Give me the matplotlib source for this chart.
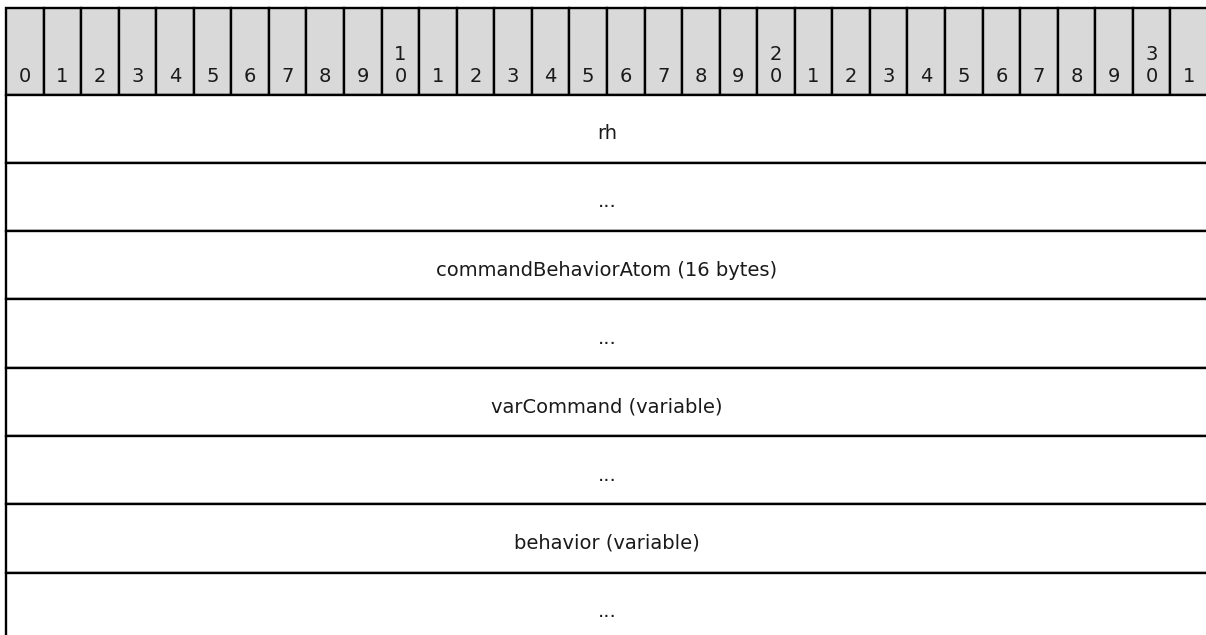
import matplotlib
matplotlib.use("Agg")
import matplotlib.pyplot as plt
from matplotlib.patches import Rectangle

# packet layout: 32 bit columns, one label per 32-bit row
n_bits = 32
row_labels = ["rh", "...", "commandBehaviorAtom (16 bytes)", "...",
              "varCommand (variable)", "...", "behavior (variable)", "..."]

# bit ruler labels (tens written above the units digit)
bit_labels = [str(b // 10) + "\n0" if b % 10 == 0 and b > 0 else str(b % 10)
              for b in range(n_bits)]

W, H = 1206, 635
x0, cell_w = 6, 37.56
head_top, head_bot = 8, 94.5
row_h = 68.3

fig = plt.figure(figsize=(W / 100, H / 100), dpi=100)
ax = fig.add_axes([0, 0, 1, 1])
ax.set_xlim(0, W)
ax.set_ylim(H, 0)
ax.axis("off")

lw = 1.7
font = 14

# header
for b, lab in enumerate(bit_labels):
    x = x0 + b * cell_w
    ax.add_patch(Rectangle((x, head_top), cell_w, head_bot - head_top,
                           facecolor="#d9d9d9", edgecolor="black", linewidth=lw))
    ax.text(x + cell_w / 2, head_bot - 8, lab, ha="center", va="bottom",
            fontsize=font, color="#1a1a1a", linespacing=1.2)

# rows
for i, lab in enumerate(row_labels):
    y = head_bot + i * row_h
    ax.add_patch(Rectangle((x0, y), n_bits * cell_w, row_h,
                           facecolor="white", edgecolor="black", linewidth=lw))
    ax.text(x0 + n_bits * cell_w / 2, y + row_h / 2 + 5, lab,
            ha="center", va="center", fontsize=font, color="#1a1a1a")

fig.savefig("out.png", dpi=100)
